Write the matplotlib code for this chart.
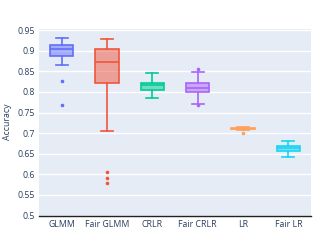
import matplotlib
matplotlib.use("Agg")
import matplotlib.pyplot as plt
from matplotlib.colors import to_rgba

categories = ["GLMM", "Fair GLMM", "CRLR", "Fair CRLR", "LR", "Fair LR"]
whislo = [0.866, 0.705, 0.785, 0.771, 0.7075, 0.641]
q1 = [0.887, 0.822, 0.806, 0.800, 0.7095, 0.656]
med = [0.904, 0.872, 0.816, 0.810, 0.711, 0.664]
q3 = [0.913, 0.905, 0.823, 0.823, 0.7125, 0.669]
whishi = [0.931, 0.929, 0.845, 0.849, 0.714, 0.680]
fliers = [[0.826, 0.768], [0.605, 0.592, 0.578], [], [0.855, 0.768], [0.701], []]
colors = ["#636EFA", "#EF553B", "#00CC96", "#AB63FA", "#FFA15A", "#19D3F3"]
yticks = [0.5, 0.55, 0.6, 0.65, 0.7, 0.75, 0.8, 0.85, 0.9, 0.95]

plt.rcParams['font.family'] = ['Open Sans', 'DejaVu Sans']
fig = plt.figure(figsize=(3.35, 2.4), dpi=100)
ax = fig.add_axes([39/335, 1-215.5/240, (311-39)/335, (215.5-29)/240])
ax.set_facecolor("#E5ECF6")

stats = []
for i in range(len(categories)):
    stats.append(dict(whislo=whislo[i], q1=q1[i], med=med[i], q3=q3[i],
                      whishi=whishi[i], fliers=fliers[i], label=categories[i]))

for i, s in enumerate(stats):
    c = colors[i]
    ax.bxp([s], positions=[i], widths=0.52, capwidths=0.26, patch_artist=True,
           boxprops=dict(facecolor=to_rgba(c, 0.5), edgecolor=c, linewidth=1.2),
           medianprops=dict(color=c, linewidth=1.2),
           whiskerprops=dict(color=c, linewidth=1.2),
           capprops=dict(color=c, linewidth=1.2),
           flierprops=dict(marker='o', markersize=2.6, markerfacecolor=c,
                           markeredgecolor='none'),
           zorder=3)

ax.set_xlim(-0.5, 5.5)
ax.set_ylim(0.5, 0.953)
ax.set_yticks(yticks)
ax.set_yticklabels(["%g" % v for v in yticks])
ax.set_xticks(range(len(categories)))
ax.set_xticklabels(categories)
ax.grid(axis='y', color='white', linewidth=1.0, zorder=0)
ax.set_axisbelow(True)
for sp in ['top', 'right', 'left']:
    ax.spines[sp].set_visible(False)
ax.spines['bottom'].set_color('#222222')
ax.spines['bottom'].set_linewidth(1.0)
ax.tick_params(axis='both', length=0, labelsize=6.3, colors='#2a3f5f', pad=3)
ax.set_ylabel("Accuracy", fontsize=6.3, color='#2a3f5f', labelpad=4)
fig.savefig("out.png", dpi=100)
